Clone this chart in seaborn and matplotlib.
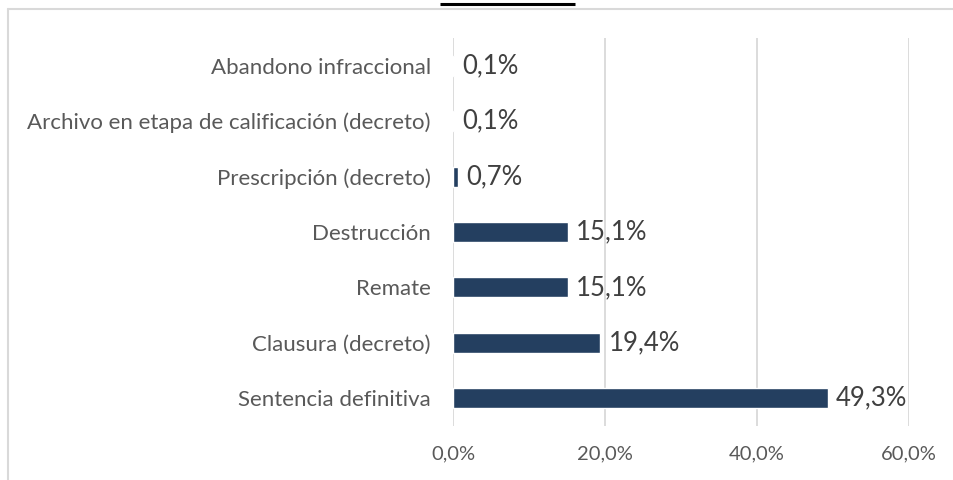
import pandas as pd
import numpy as np
import matplotlib
matplotlib.use('Agg')
import matplotlib.pyplot as plt
import seaborn as sns
from matplotlib.lines import Line2D

# datos del gráfico (de arriba hacia abajo)
categorias = ['Abandono infraccional',
              'Archivo en etapa de calificación (decreto)',
              'Prescripción (decreto)',
              'Destrucción',
              'Remate',
              'Clausura (decreto)',
              'Sentencia definitiva']
valores = [0.1, 0.1, 0.7, 15.1, 15.1, 19.4, 49.3]
ticks_x = [0, 20, 40, 60]

df = pd.DataFrame({'categoria': categorias, 'valor': valores})

sns.set_theme(style='white')
plt.rcParams['font.family'] = ['Lato', 'DejaVu Sans']

gris_texto = '#595959'
color_barra = '#243F60'

fig = plt.figure(figsize=(9.54, 4.8), dpi=100)
ax = fig.add_axes([453 / 954, 1 - 426 / 480, (909 - 453) / 954, (426 - 38) / 480])

sns.barplot(data=df, x='valor', y='categoria', orient='h', color=color_barra,
            width=0.36, saturation=1, ax=ax, zorder=3)

ax.set_xlim(0, 60)
ax.set_xticks(ticks_x)
ax.set_xticklabels([f'{t:.1f}%'.replace('.', ',') for t in ticks_x])
ax.set_xlabel('')
ax.set_ylabel('')
ax.grid(axis='x', color='#D9D9D9', linewidth=1.3, zorder=0)
ax.grid(axis='y', visible=False)
for s in ax.spines.values():
    s.set_visible(False)
ax.tick_params(axis='x', length=0, pad=14, labelsize=14.5, labelcolor=gris_texto)
ax.tick_params(axis='y', length=0, pad=16, labelsize=16, labelcolor=gris_texto)

# etiquetas de valor
for cont in ax.containers:
    ax.bar_label(cont, labels=[f'{v:.1f}%'.replace('.', ',') for v in valores],
                 padding=6, fontsize=18.5, color='#404040')

# borde del área del gráfico
borde = '#D9D9D9'
fig.add_artist(Line2D([8 / 954, 1], [1 - 9 / 480, 1 - 9 / 480], color=borde, lw=1.5,
                      transform=fig.transFigure))
fig.add_artist(Line2D([8 / 954, 8 / 954], [0, 1 - 9 / 480], color=borde, lw=1.5,
                      transform=fig.transFigure))
# subrayado del título recortado
fig.add_artist(Line2D([440 / 954, 575 / 954], [1 - 4 / 480, 1 - 4 / 480], color='black',
                      lw=2.2, solid_capstyle='butt', transform=fig.transFigure))

fig.savefig('out.png', dpi=100)
